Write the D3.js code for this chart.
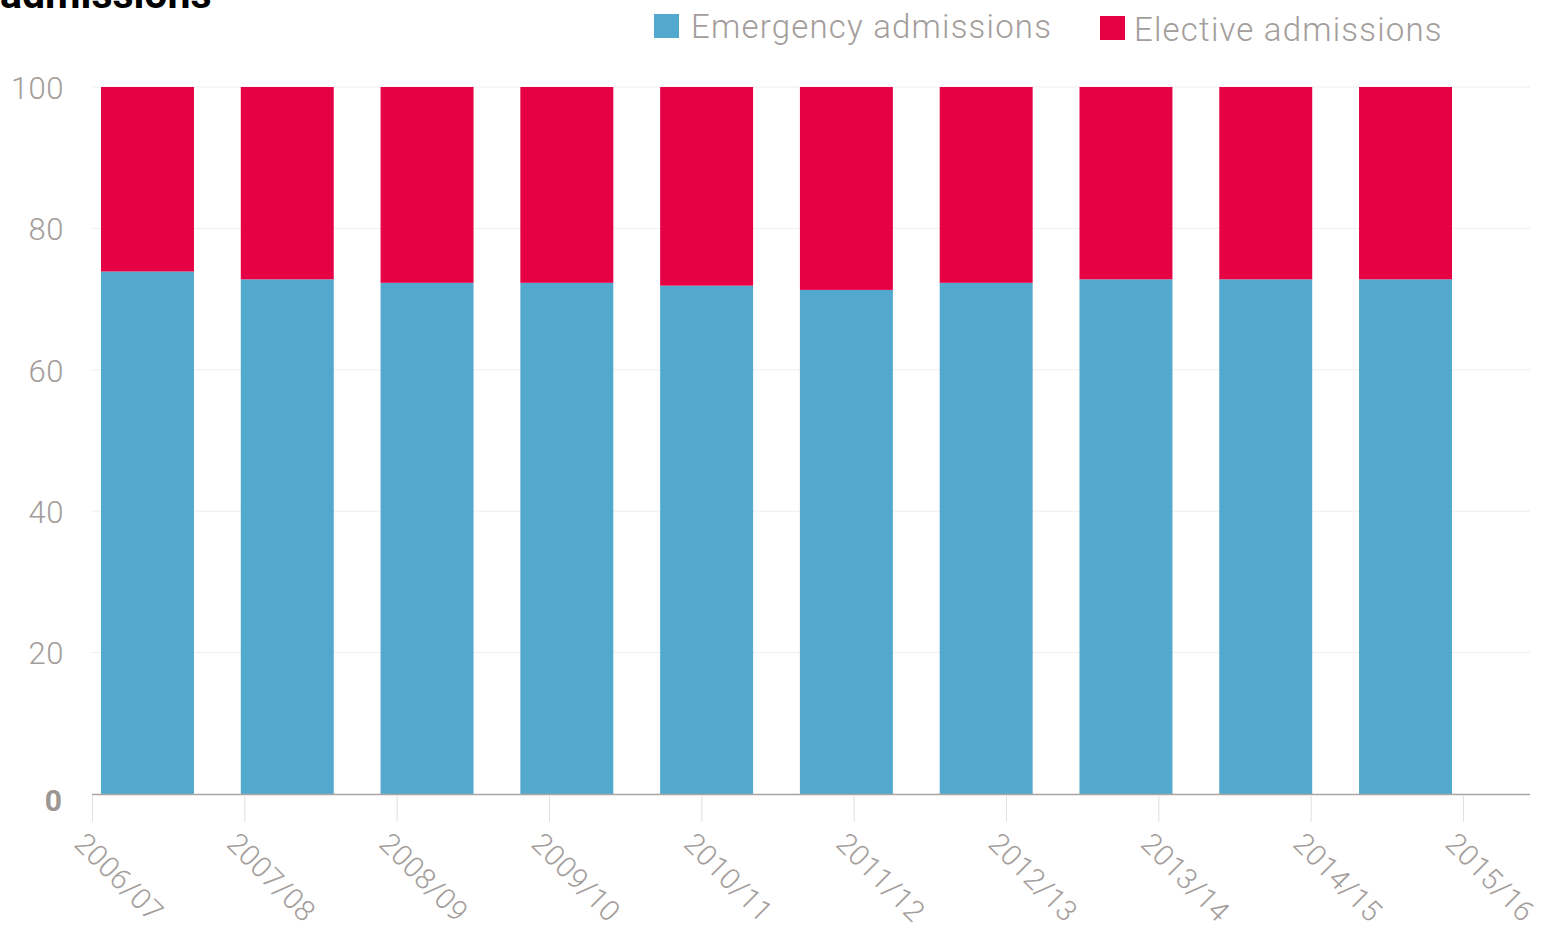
<!DOCTYPE html>
<html><head><meta charset="utf-8">
<script src="https://cdn.jsdelivr.net/npm/d3@7"></script>
<style>
body{margin:0;background:#fff;}
svg{display:block;}
text{font-family:Roboto,"Liberation Sans",sans-serif;}
</style></head>
<body>
<svg id="c" width="1542" height="931"></svg>
<script>
const categories = ["2006/07","2007/08","2008/09","2009/10","2010/11","2011/12","2012/13","2013/14","2014/15","2015/16"];
const emergency = [73.9,72.8,72.3,72.3,71.9,71.3,72.3,72.8,72.8,72.8];
const elective = emergency.map(v => +(100 - v).toFixed(1));
const yTicks = [0,20,40,60,80,100];
const seriesNames = ["Emergency admissions","Elective admissions"];
const colors = ["#53a8cd","#e60044"];

const svg = d3.select("#c");
const y = d3.scaleLinear().domain([0,100]).range([794,87]);
const xBar = d3.scaleBand().domain(categories).range([101,1452]).paddingInner(0.335).paddingOuter(0);
const xTick = d3.scalePoint().domain(categories).range([92,1463]);

// title fragment
svg.append("text").attr("x",0).attr("y",8).attr("font-size",41).attr("font-weight","bold")
  .attr("font-family","'Liberation Sans',Arial,sans-serif").attr("fill","#000").text("admissions");

// gridlines
svg.append("g").selectAll("line").data(yTicks.filter(d=>d>0)).join("line")
  .attr("x1",92).attr("x2",1530).attr("y1",d=>y(d)).attr("y2",d=>y(d))
  .attr("stroke","#eeeeee").attr("stroke-width",1);

// y labels
svg.append("g").selectAll("text").data(yTicks.filter(d=>d>0)).join("text")
  .attr("x",64).attr("y",d=>y(d)+1).attr("dy","0.35em").attr("text-anchor","end")
  .attr("font-size",31).attr("font-weight",300).attr("letter-spacing",0.5).attr("fill","#a39d9b").text(d=>d);
svg.append("text").attr("x",62).attr("y",y(0)+6).attr("dy","0.35em").attr("text-anchor","end")
  .attr("font-size",30).attr("font-weight","bold").attr("fill","#9c9694").text("0");

// stacked bars
const rows = categories.map((c,i)=>({cat:c, emergency:emergency[i], elective:elective[i]}));
const stack = d3.stack().keys(["emergency","elective"])(rows);
svg.append("g").selectAll("g").data(stack).join("g").attr("fill",(d,i)=>colors[i])
  .selectAll("rect").data(d=>d).join("rect")
  .attr("x",d=>xBar(d.data.cat)).attr("width",xBar.bandwidth())
  .attr("y",d=>y(d[1])).attr("height",d=>y(d[0])-y(d[1]));

// x axis
svg.append("line").attr("x1",92).attr("x2",1530).attr("y1",794.5).attr("y2",794.5)
  .attr("stroke","#aaa5a3").attr("stroke-width",1.5);
const xa = svg.append("g");
xa.selectAll("line").data(categories).join("line")
  .attr("x1",d=>xTick(d)+0.5).attr("x2",d=>xTick(d)+0.5).attr("y1",796).attr("y2",822)
  .attr("stroke","#e3e0de").attr("stroke-width",1);
xa.selectAll("text").data(categories).join("text")
  .attr("transform",d=>`translate(${xTick(d)-12},${838}) rotate(45)`)
  .attr("dy","0.35em").attr("text-anchor","start")
  .attr("font-size",29).attr("font-weight",300).attr("letter-spacing",0.4).attr("fill","#a39d9b").text(d=>d);

// legend
const lg = svg.append("g");
const legendPos = [{sx:654,sy:14,tx:691,ty:38},{sx:1100,sy:16,tx:1134,ty:41}];
seriesNames.forEach((n,i)=>{
  lg.append("rect").attr("x",legendPos[i].sx).attr("y",legendPos[i].sy).attr("width",25).attr("height",24).attr("fill",colors[i]);
  lg.append("text").attr("x",legendPos[i].tx).attr("y",legendPos[i].ty).attr("font-size",33).attr("font-weight",300)
    .attr("letter-spacing",1.2).attr("fill","#a39d9b").text(n);
});
</script>
</body></html>
